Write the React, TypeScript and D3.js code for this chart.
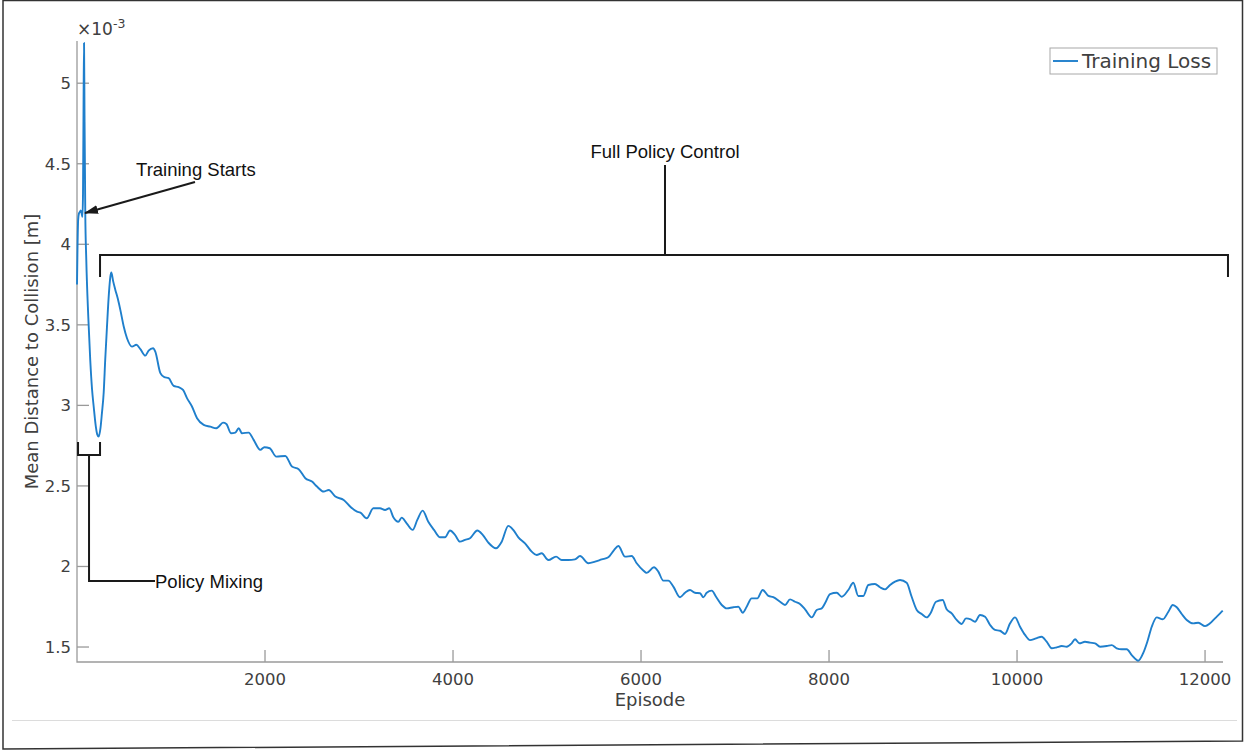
import React from "react";
import * as d3 from "d3";

// Training loss (mean distance to collision, x10^-3 m)
const episodes = [
  0, 5, 12, 20, 30, 40, 50, 58, 64, 70, 75, 80, 88, 99, 120, 141, 160, 178, 200, 215,
  231, 250, 265, 284, 300, 319, 340, 355, 365, 385, 408, 435, 461, 497, 532, 585, 631, 674, 727, 762,
  809, 833, 887, 929, 975, 1028, 1082, 1128, 1170, 1223, 1277, 1348, 1418, 1482, 1507, 1553, 1589, 1638, 1684, 1720,
  1755, 1826, 1879, 1950, 1993, 2050, 2120, 2216, 2287, 2358, 2429, 2500, 2553, 2624, 2678, 2748, 2837, 2908, 2979, 3015,
  3082, 3152, 3223, 3277, 3322, 3365, 3418, 3454, 3507, 3571, 3620, 3677, 3737, 3798, 3862, 3915, 3968, 4021, 4074, 4128,
  4181, 4259, 4316, 4376, 4457, 4518, 4588, 4641, 4695, 4766, 4837, 4890, 4944, 5014, 5096, 5156, 5227, 5298, 5351, 5440,
  5511, 5582, 5652, 5713, 5759, 5830, 5901, 5954, 6024, 6060, 6138, 6184, 6237, 6290, 6344, 6415, 6468, 6521, 6574, 6628,
  6663, 6699, 6752, 6798, 6859, 6912, 6982, 7036, 7082, 7124, 7177, 7237, 7294, 7355, 7407, 7479, 7532, 7585, 7638, 7691,
  7745, 7816, 7869, 7922, 7957, 8011, 8082, 8135, 8205, 8258, 8311, 8365, 8418, 8489, 8542, 8596, 8649, 8702, 8755, 8826,
  8879, 8933, 8986, 9039, 9080, 9138, 9209, 9251, 9305, 9358, 9411, 9457, 9507, 9553, 9606, 9660, 9713, 9766, 9819, 9872,
  9926, 9979, 10032, 10085, 10138, 10202, 10262, 10315, 10369, 10422, 10475, 10528, 10581, 10617, 10663, 10723, 10777, 10830, 10883, 10954,
  11007, 11060, 11114, 11167, 11220, 11290, 11344, 11386, 11433, 11486, 11550, 11610, 11657, 11699, 11752, 11805, 11876, 11929, 12000, 12053,
  12106, 12160, 12188,
];
const meanDist = [
  3.75, 3.96, 4.15, 4.19, 4.2, 4.21, 4.19, 4.17, 4.32, 4.9, 5.25, 4.8, 4.2, 3.9, 3.55, 3.28, 3.1, 2.99, 2.87, 2.82,
  2.806, 2.86, 2.95, 3.08, 3.28, 3.49, 3.7, 3.8, 3.825, 3.77, 3.717, 3.66, 3.593, 3.49, 3.417, 3.365, 3.376, 3.349, 3.309, 3.34,
  3.355, 3.334, 3.2, 3.175, 3.169, 3.121, 3.113, 3.096, 3.045, 2.993, 2.92, 2.879, 2.868, 2.858, 2.868, 2.893, 2.885, 2.827, 2.831, 2.858,
  2.827, 2.831, 2.786, 2.724, 2.74, 2.734, 2.682, 2.686, 2.62, 2.604, 2.548, 2.527, 2.496, 2.465, 2.475, 2.434, 2.413, 2.371, 2.34, 2.334,
  2.299, 2.361, 2.361, 2.351, 2.361, 2.306, 2.278, 2.303, 2.268, 2.227, 2.289, 2.347, 2.278, 2.227, 2.181, 2.181, 2.223, 2.196, 2.154, 2.165,
  2.175, 2.223, 2.196, 2.148, 2.113, 2.154, 2.252, 2.227, 2.181, 2.144, 2.092, 2.071, 2.082, 2.04, 2.061, 2.04, 2.04, 2.044, 2.065, 2.02,
  2.03, 2.044, 2.057, 2.102, 2.127, 2.061, 2.065, 2.02, 1.975, 1.96, 1.995, 1.968, 1.912, 1.912, 1.875, 1.809, 1.837, 1.854, 1.837, 1.834,
  1.809, 1.837, 1.85, 1.812, 1.761, 1.74, 1.747, 1.75, 1.713, 1.75, 1.802, 1.802, 1.854, 1.817, 1.809, 1.781, 1.761, 1.796, 1.781, 1.767,
  1.734, 1.684, 1.73, 1.74, 1.771, 1.829, 1.837, 1.812, 1.854, 1.899, 1.817, 1.817, 1.885, 1.891, 1.871, 1.858, 1.885, 1.906, 1.916, 1.899,
  1.812, 1.73, 1.705, 1.684, 1.71, 1.781, 1.792, 1.734, 1.709, 1.668, 1.643, 1.678, 1.672, 1.657, 1.699, 1.688, 1.637, 1.606, 1.601, 1.581,
  1.647, 1.684, 1.626, 1.575, 1.543, 1.554, 1.564, 1.533, 1.492, 1.498, 1.506, 1.502, 1.523, 1.548, 1.523, 1.533, 1.527, 1.523, 1.502, 1.506,
  1.512, 1.492, 1.486, 1.486, 1.45, 1.415, 1.465, 1.533, 1.626, 1.684, 1.672, 1.719, 1.761, 1.747, 1.705, 1.668, 1.647, 1.651, 1.63, 1.647,
  1.678, 1.709, 1.726,
];

const xTicks = [2000, 4000, 6000, 8000, 10000, 12000];
const yTicks = [1.5, 2, 2.5, 3, 3.5, 4, 4.5, 5];
const xDomain = [0, 12191];
const yDomain = [1.407, 5.262];

// annotation anchors, in data units
const fullPolicy = { x0: 245, x1: 12244, yBar: 3.933, yEnd: 3.797, xStem: 6255, yStem: 4.492, yText: 4.535 };
const mixing = { x0: 11, x1: 245, yBar: 2.692, yEnd: 2.773, xStem: 128, yStem: 1.91, xText: 830 };
const startArrow = { x0: 1255, y0: 4.387, x1: 85, y1: 4.194, xText: 628, yText: 4.424 };

const W = 1250;
const H = 751;
const margin = { top: 41, right: 27, bottom: 89, left: 77 };

const axisFont = "'DejaVu Sans', sans-serif";
const noteFont = "'Liberation Sans', Arial, sans-serif";

export default function App() {
  const x = d3.scaleLinear().domain(xDomain).range([margin.left, W - margin.right]);
  const y = d3.scaleLinear().domain(yDomain).range([H - margin.bottom, margin.top]);

  const pts: [number, number][] = episodes.map((e, i) => [e, meanDist[i]]);
  const line = d3
    .line<[number, number]>()
    .x((d) => x(d[0]))
    .y((d) => y(d[1]))
    .curve(d3.curveMonotoneX);

  const x0 = x(xDomain[0]);
  const x1 = x(xDomain[1]);
  const yb = y(yDomain[0]);
  const yt = y(yDomain[1]);
  const tickLen = 12;
  const axisCol = "#9a9a9a";
  const textCol = "#404040";
  const noteCol = "#1a1a1a";
  const lineCol = "#1f7fcc";

  // policy control bracket
  const fp = fullPolicy;
  const fpPath = `M${x(fp.x0)},${y(fp.yEnd)}V${y(fp.yBar)}H${x(fp.x1)}V${y(fp.yEnd)}M${x(fp.xStem)},${y(fp.yBar)}V${y(fp.yStem)}`;
  const mx = mixing;
  const mxPath = `M${x(mx.x0)},${y(mx.yEnd)}V${y(mx.yBar)}H${x(mx.x1)}V${y(mx.yEnd)}M${x(mx.xStem)},${y(mx.yBar)}V${y(mx.yStem)}H${x(mx.xText)}`;

  return (
    <svg
      width={W}
      height={H}
      style={{ position: "absolute", left: 0, top: 0, display: "block", background: "#fff" }}
    >
      <defs>
        <marker
          id="arrowHead"
          markerUnits="userSpaceOnUse"
          markerWidth={14}
          markerHeight={10}
          refX={13}
          refY={5}
          orient="auto"
        >
          <path d="M0,0.5 L14,5 L0,9.5 Z" fill={noteCol} />
        </marker>
      </defs>

      {/* outer frame and separator */}
      <path d="M3,0.5 H1242.5 V741 L3,749 Z" fill="none" stroke="#333" strokeWidth={1.5} />
      <line x1={12} x2={1237} y1={720.5} y2={720.5} stroke="#dcdcdc" strokeWidth={1} />

      {/* axes */}
      <g stroke={axisCol} strokeWidth={1.3} fill="none">
        <path d={`M${x0},${yt}V${yb}H${x1}`} />
        {yTicks.map((t) => (
          <line key={`yt${t}`} x1={x0} x2={x0 + tickLen} y1={y(t)} y2={y(t)} />
        ))}
        {xTicks.map((t) => (
          <line key={`xt${t}`} x1={x(t)} x2={x(t)} y1={yb} y2={yb - tickLen} />
        ))}
      </g>
      <g fontFamily={axisFont} fontSize={16.5} fill={textCol}>
        {yTicks.map((t) => (
          <text key={`yl${t}`} x={x0 - 6} y={y(t)} dy="0.36em" textAnchor="end">
            {t}
          </text>
        ))}
        {xTicks.map((t) => (
          <text key={`xl${t}`} x={x(t)} y={yb + 23} textAnchor="middle">
            {t}
          </text>
        ))}
        <text x={x0} y={35} fontSize={17}>
          ×10<tspan dy={-7} fontSize={12.5}>-3</tspan>
        </text>
        <text x={(x0 + x1) / 2} y={706} textAnchor="middle" fontSize={18}>
          Episode
        </text>
        <text
          transform={`translate(38,${(yt + yb) / 2}) rotate(-90)`}
          textAnchor="middle"
          fontSize={18}
        >
          Mean Distance to Collision [m]
        </text>
      </g>

      {/* data */}
      <path d={line(pts) ?? ""} fill="none" stroke={lineCol} strokeWidth={1.9} strokeLinejoin="round" />

      {/* annotations */}
      <g stroke={noteCol} strokeWidth={2} fill="none">
        <path d={fpPath} />
        <path d={mxPath} />
        <line
          x1={x(startArrow.x0)}
          y1={y(startArrow.y0)}
          x2={x(startArrow.x1)}
          y2={y(startArrow.y1)}
          markerEnd="url(#arrowHead)"
        />
      </g>
      <g fontFamily={noteFont} fontSize={18.5} fill="#111">
        <text x={x(fp.xStem)} y={y(fp.yText)} textAnchor="middle">
          Full Policy Control
        </text>
        <text x={x(mx.xText)} y={y(mx.yStem)} dy="0.36em">
          Policy Mixing
        </text>
        <text x={x(startArrow.xText)} y={y(startArrow.yText)}>
          Training Starts
        </text>
      </g>

      {/* legend */}
      <g>
        <rect x={1050} y={48} width={167} height={26} fill="#fff" stroke="#a8a8a8" strokeWidth={1} />
        <line x1={1053} x2={1078} y1={61} y2={61} stroke={lineCol} strokeWidth={1.9} />
        <text x={1082} y={61} dy="0.36em" fontFamily={axisFont} fontSize={20} fill={textCol}>
          Training Loss
        </text>
      </g>
    </svg>
  );
}
